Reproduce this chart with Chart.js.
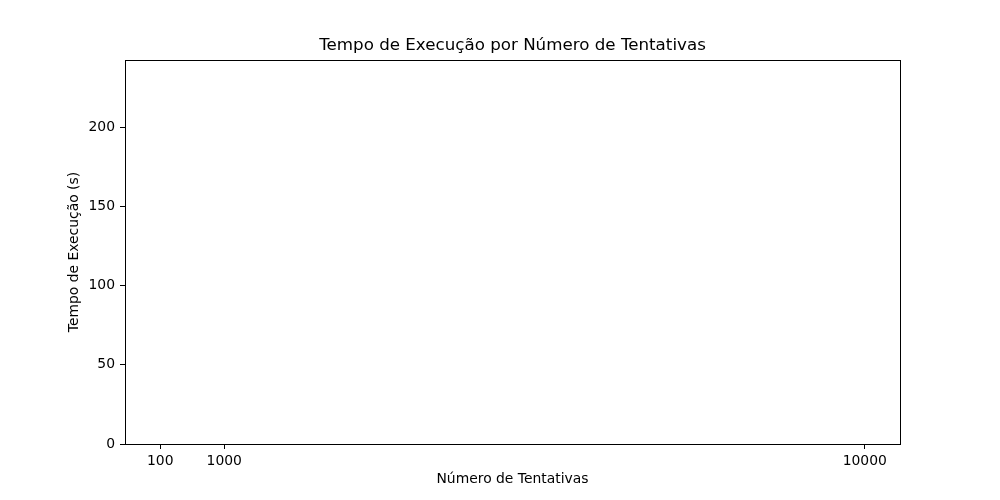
<!DOCTYPE html>
<html>
<head>
<meta charset="utf-8">
<script src="https://cdn.jsdelivr.net/npm/chart.js@4"></script>
<style>
html,body{margin:0;padding:0;background:#fff;}
#c{display:block;}
</style>
</head>
<body>
<canvas id="c" width="1000" height="500"></canvas>
<script>
const tentativas = [100, 1000, 10000];
const tempos = [2.4, 23.5, 230.8];
const xTicks = [100, 1000, 10000];
const yTicks = [0, 50, 100, 150, 200];
const titulo = 'Tempo de Execução por Número de Tentativas';
const xTitulo = 'Número de Tentativas';
const yTitulo = 'Tempo de Execução (s)';

const FONT = "'DejaVu Sans', sans-serif";
Chart.defaults.font.family = FONT;
Chart.defaults.color = '#000';

const frame = {
  id: 'frame',
  afterDraw(chart) {
    const {ctx, chartArea: a} = chart;
    ctx.save();
    ctx.strokeStyle = '#000';
    ctx.lineWidth = 1;
    ctx.strokeRect(Math.round(a.left) + 0.5, Math.round(a.top) + 0.5,
      Math.round(a.right - a.left), Math.round(a.bottom - a.top));
    ctx.restore();
  }
};

const xMin = 100 - 0.05 * (10000 - 100);
const xMax = 10000 + 0.05 * (10000 - 100);
const yMax = Math.max(...tempos) * 1.05;

const gridOpts = {drawOnChartArea: false, drawTicks: true, tickLength: 5, tickColor: '#000', tickWidth: 1, offset: false};

new Chart(document.getElementById('c'), {
  type: 'bar',
  data: {
    datasets: [{
      data: tentativas.map((t, i) => ({x: t, y: tempos[i]})),
      backgroundColor: 'rgba(31,119,180,0)',
      barThickness: 0.06,
      borderWidth: 0
    }]
  },
  options: {
    responsive: false,
    animation: false,
    devicePixelRatio: 1,
    layout: {padding: {left: 25, right: 0, top: 0, bottom: 0}},
    plugins: {
      legend: {display: false},
      tooltip: {enabled: false},
      title: {
        display: true,
        text: titulo,
        color: '#000',
        font: {size: 16.7, weight: 'normal', family: FONT},
        padding: {top: 36, bottom: 4}
      }
    },
    scales: {
      x: {
        type: 'linear',
        min: xMin,
        max: xMax,
        offset: false,
        afterBuildTicks: s => { s.ticks = xTicks.map(v => ({value: v})); },
        afterFit: s => { s.height = 56; },
        ticks: {
          color: '#000',
          font: {size: 13.9, family: FONT},
          padding: 4,
          maxRotation: 0,
          autoSkip: false,
          callback: v => String(v)
        },
        grid: gridOpts,
        border: {display: false},
        title: {
          display: true,
          text: xTitulo,
          color: '#000',
          font: {size: 13.9, family: FONT},
          padding: {top: 0, bottom: 12}
        }
      },
      y: {
        type: 'linear',
        position: 'left',
        min: 0,
        max: yMax,
        afterBuildTicks: s => { s.ticks = yTicks.map(v => ({value: v})); },
        afterFit: s => { s.width = 100; },
        ticks: {
          color: '#000',
          font: {size: 13.9, family: FONT},
          padding: 5,
          callback: v => String(v)
        },
        grid: gridOpts,
        border: {display: false},
        title: {
          display: true,
          text: yTitulo,
          color: '#000',
          font: {size: 13.9, family: FONT},
          padding: {top: 41, bottom: 0}
        }
      },
      yDireita: {
        type: 'linear',
        position: 'right',
        min: 0,
        max: yMax,
        afterFit: s => { s.width = 100; },
        ticks: {display: false},
        grid: {display: false},
        border: {display: false}
      }
    }
  },
  plugins: [frame]
});
</script>
</body>
</html>
